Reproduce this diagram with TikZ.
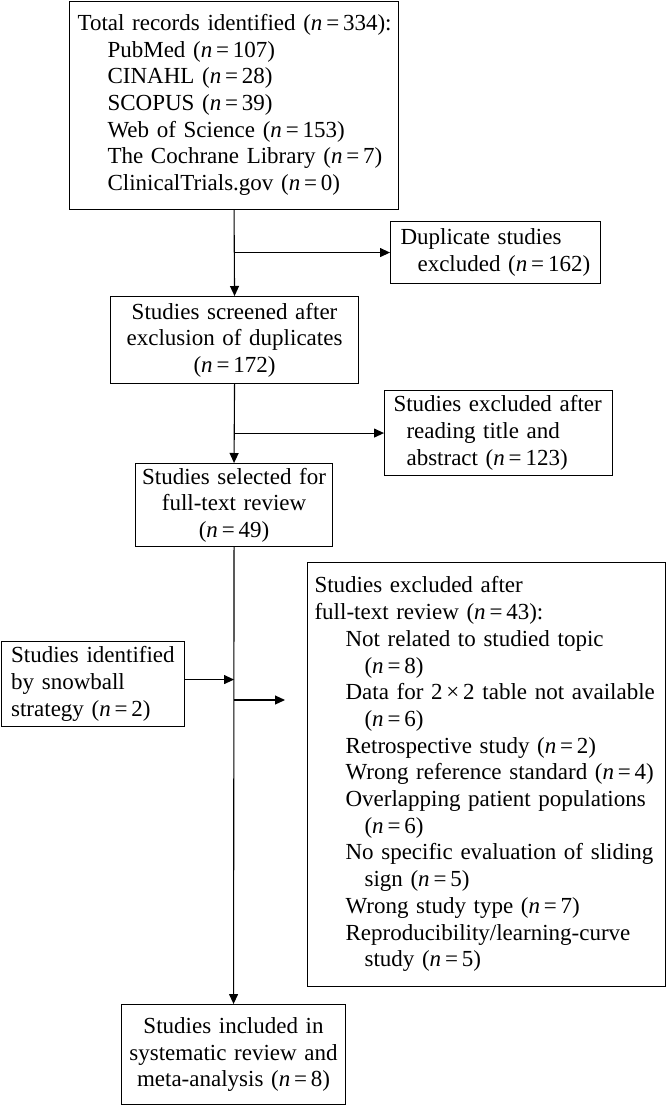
\documentclass[tikz,border=0pt]{standalone}
\usepackage{fontspec}
\setmainfont{Liberation Serif}
\usetikzlibrary{arrows.meta}
\newcommand\nn[1]{(\textit{n}\,=\,#1)}
\newcommand\ind[1]{\hspace*{#1pt}}
\begin{document}
\begin{tikzpicture}[x=1pt,y=-1pt,
  box/.style={draw, line width=1.1pt, inner ysep=0pt, anchor=north west,
    font=\fontsize{23}{26.7}\selectfont},
  arr/.style={line width=1.1pt, -{Triangle[length=10pt,width=9pt]}}]
\useasboundingbox (0,0) rectangle (666,1105);
% boxes
\node[box, inner xsep=8pt, text width=313pt, minimum height=208pt, align=left] (b1) at (69,0.6)
 {\begin{tabular}{@{}l@{}}
 Total records identified \nn{334}:\\
 \ind{30}PubMed \nn{107}\\
 \ind{30}CINAHL \nn{28}\\
 \ind{30}SCOPUS \nn{39}\\
 \ind{30}Web of Science \nn{153}\\
 \ind{30}The Cochrane Library \nn{7}\\
 \ind{30}ClinicalTrials.gov \nn{0}
 \end{tabular}};
\node[box, inner xsep=10pt, text width=190pt, minimum height=62pt, align=left] (dup) at (390,221)
 {\begin{tabular}{@{}l@{}}
 Duplicate studies\\
 \ind{17}excluded \nn{162}
 \end{tabular}};
\node[box, inner xsep=6pt, text width=236pt, minimum height=87pt, align=center] (b2) at (110,296)
 {Studies screened after\\exclusion of duplicates\\\nn{172}};
\node[box, inner xsep=9pt, text width=210pt, minimum height=85pt, align=left] (rd) at (384,390)
 {\begin{tabular}{@{}l@{}}
 Studies excluded after\\
 \ind{13}reading title and\\
 \ind{13}abstract \nn{123}
 \end{tabular}};
\node[box, inner xsep=6pt, text width=185pt, minimum height=83pt, align=center] (b3) at (135,463)
 {Studies selected for\\full-text review\\\nn{49}};
\node[box, inner xsep=7pt, text width=344pt, minimum height=424pt, align=left] (ft) at (307,562)
 {\begin{tabular}{@{}l@{}}
 Studies excluded after\\
 full-text review \nn{43}:\\
 \ind{31}Not related to studied topic\\
 \ind{50}\nn{8}\\
 \ind{31}Data for 2\,×\,2 table not available\\
 \ind{50}\nn{6}\\
 \ind{31}Retrospective study \nn{2}\\
 \ind{31}Wrong reference standard \nn{4}\\
 \ind{31}Overlapping patient populations\\
 \ind{50}\nn{6}\\
 \ind{31}No specific evaluation of sliding\\
 \ind{50}sign \nn{5}\\
 \ind{31}Wrong study type \nn{7}\\
 \ind{31}Reproducibility/learning-curve\\
 \ind{50}study \nn{5}
 \end{tabular}};
\node[box, inner xsep=10pt, text width=163pt, minimum height=85pt, align=left] (sb) at (0.6,641)
 {\begin{tabular}{@{}l@{}}
 Studies identified\\
 by snowball\\
 strategy \nn{2}
 \end{tabular}};
\node[box, inner xsep=6pt, text width=212pt, minimum height=100pt, align=center] (b4) at (121,1004)
 {Studies included in\\systematic review and\\meta-analysis \nn{8}};
\coordinate (ftin) at (285,700);
% connectors
\draw[arr] (b1.south) -- (b2.north);
\draw[arr] (b1.south |- dup.west) -- (dup.west);
\draw[arr] (b2.south) -- (b3.north);
\draw[arr] (b2.south |- rd.west) -- (rd.west);
\draw[arr] (b3.south) -- (b4.north);
\draw[arr] ([yshift=4.5pt]sb.east) -- ([yshift=4.5pt]sb.east -| b3.south);
\draw[arr] (b3.south |- ftin) -- (ftin);
\end{tikzpicture}
\end{document}
